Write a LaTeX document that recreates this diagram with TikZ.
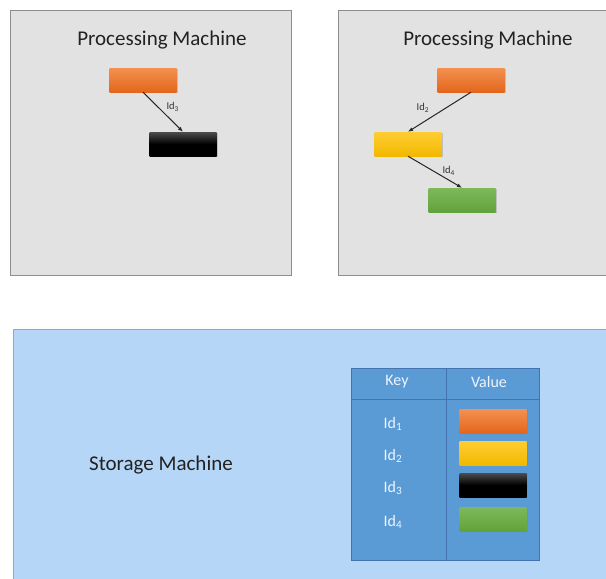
\documentclass[tikz,border=0pt]{standalone}
\usepackage{fontspec}
\setmainfont{Carlito}
\usetikzlibrary{arrows.meta,shadows}

\definecolor{procgray}{HTML}{E2E2E2}
\definecolor{procline}{HTML}{8E8E8E}
\definecolor{storeblue}{HTML}{B5D6F6}
\definecolor{storeline}{HTML}{7BAEE0}
\definecolor{tabblue}{HTML}{5B9BD5}
\definecolor{tabline}{HTML}{4474B0}
\definecolor{tabtext}{HTML}{EEF4FC}
\definecolor{titletext}{HTML}{222222}
\definecolor{orangetop}{HTML}{F39150}
\definecolor{orangebot}{HTML}{E4661C}
\definecolor{yellowtop}{HTML}{FFCD33}
\definecolor{yellowbot}{HTML}{F2B800}
\definecolor{greentop}{HTML}{7DB95B}
\definecolor{greenbot}{HTML}{62A23A}

\begin{document}
\begin{tikzpicture}[x=1pt,y=-1pt,
    bar/.style={minimum width=67pt,minimum height=24pt,inner sep=0pt,
        drop shadow={opacity=0.35,shadow xshift=1pt,shadow yshift=-1.2pt}},
    orangebar/.style={bar,top color=orangetop,bottom color=orangebot},
    yellowbar/.style={bar,top color=yellowtop,bottom color=yellowbot},
    blackbar/.style={bar,top color=black!70,bottom color=black,middle color=black},
    greenbar/.style={bar,top color=greentop,bottom color=greenbot},
    link/.style={-{Latex[length=5pt,width=4pt]},line width=1pt,black!85},
    title/.style={text=titletext,font=\fontsize{21}{24}\selectfont},
    idlabel/.style={text=black!80,font=\fontsize{10.5}{12}\selectfont,inner sep=1pt},
    tablabel/.style={text=tabtext,font=\fontsize{16}{19}\selectfont}]
    \useasboundingbox (0,0) rectangle (606,579);
    \clip (0,0) rectangle (606,579);

    % the two processing machines
    \draw[procline,fill=procgray,line width=1pt] (10,10) rectangle (291,275);
    \draw[procline,fill=procgray,line width=1pt] (338,10) rectangle (640,275);
    \node[title] (leftname) at (162,40) {Processing Machine};
    \node[title] (rightname) at (488,40) {Processing Machine};

    \node[orangebar] (lorange) at (143,80) {};
    \node[blackbar] (lblack) at (183,144) {};
    \draw[link] (lorange.south) -- (lblack.north)
        node[idlabel,midway,anchor=south west,xshift=2pt,yshift=-1pt] {Id\textsubscript{3}};

    \node[orangebar] (rorange) at (471,80) {};
    \node[yellowbar] (ryellow) at (408,144) {};
    \node[greenbar] (rgreen) at (462,200) {};
    \draw[link] (rorange.south) -- (ryellow.north)
        node[idlabel,midway,anchor=south east,xshift=-9pt,yshift=-2pt] {Id\textsubscript{2}};
    \draw[link] (ryellow.south) -- (rgreen.north)
        node[idlabel,midway,anchor=south west,xshift=6pt,yshift=-5pt] {Id\textsubscript{4}};

    % the storage machine with its key/value table
    \draw[storeline,fill=storeblue,line width=1pt] (13,329) rectangle (640,620);
    \node[title] (storename) at (161,465) {Storage Machine};

    \draw[tabline,fill=tabblue,line width=1pt] (351,368) rectangle (539,560);
    \draw[tabline,line width=1pt] (446,368) -- (446,560);
    \draw[tabline,line width=1pt] (351,399) -- (539,399);
    \node[tablabel] (keyhead) at (397,382) {Key};
    \node[tablabel] (valuehead) at (489,382) {Value};

    \foreach \n/\y/\c in {1/421/orangebar,2/453/yellowbar,3/485/blackbar,4/519/greenbar}{
        \node[tablabel] (key\n) at (393,\y+3) {Id\textsubscript{\n}};
        \node[\c] (value\n) at (493,\y) {};
    }
\end{tikzpicture}
\end{document}
